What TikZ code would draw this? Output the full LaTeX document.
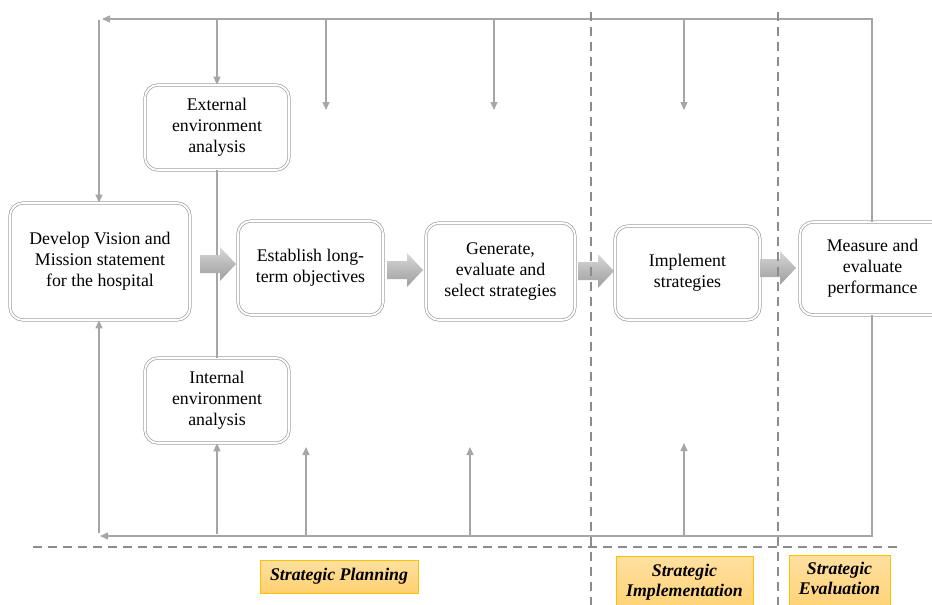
\documentclass[tikz,border=0pt]{standalone}
\usepackage{fontspec}
\setmainfont{Liberation Serif}
\usetikzlibrary{arrows.meta,calc}

\definecolor{lineg}{HTML}{A6A6A6}
\definecolor{dashg}{HTML}{8C8C8C}
\definecolor{boxg}{HTML}{A0A0A0}
\definecolor{phasetop}{HTML}{FFE0A0}
\definecolor{phasebot}{HTML}{FFD070}
\definecolor{phaseedge}{HTML}{FFC000}

\begin{document}
\begin{tikzpicture}[x=1pt,y=-1pt,
  stage/.style={draw=boxg, double=white, double distance=1.8pt, line width=0.7pt,
    rounded corners=13pt, fill=white, align=center, inner sep=0pt,
    font=\fontsize{17.8}{21}\selectfont},
  fb/.style={draw=lineg, line width=1.3pt},
  tip/.style={-{Triangle[length=8pt,width=7pt]}},
  phase/.style={draw=phaseedge, line width=1pt, top color=phasetop, bottom color=phasebot,
    align=center, inner sep=0pt, font=\fontsize{17.8}{20}\selectfont\bfseries\itshape},
  divider/.style={draw=dashg, line width=1.1pt, dash pattern=on 9pt off 6pt},
  flowarrow/.pic={
    \shade[top color=gray!30, bottom color=gray!75, middle color=gray!55]
      (-18,-9) -- (2,-9) -- (2,-17) -- (18,0) -- (2,17) -- (2,9) -- (-18,9) -- cycle;
  }
]
\useasboundingbox (0,0) rectangle (932,605);

% stage boxes
\node[stage, minimum width=180pt, minimum height=117pt] (dev) at (100,261.5)
  {Develop Vision and\\Mission statement\\for the hospital};
\node[stage, minimum width=144pt, minimum height=85pt] (ext) at (217,127.5)
  {External\\environment\\analysis};
\node[stage, minimum width=144pt, minimum height=85pt] (int) at (217,400.5)
  {Internal\\environment\\analysis};
\node[stage, minimum width=145pt, minimum height=94pt] (est) at (310.5,268)
  {Establish long-\\term objectives};
\node[stage, minimum width=149pt, minimum height=97pt] (gen) at (500.5,271.5)
  {Generate,\\evaluate and\\select strategies};
\node[stage, minimum width=145pt, minimum height=94pt] (imp) at (687.5,273)
  {Implement\\strategies};
\node[stage, minimum width=145pt, minimum height=93pt] (mea) at (872.5,268.5)
  {Measure and\\evaluate\\performance};

% feedback loop coordinates
\coordinate (tr) at (872,19);
\coordinate (tl) at (102,19);
\coordinate (br) at (872,536);
\coordinate (bl) at (100,536);
\coordinate (lt) at (99,20);
\coordinate (lb) at (99,533);

% top feedback line and its drops
\draw[fb, tip] (tr |- mea.north) -- (tr) -- (tl);
\draw[fb, tip] (lt) -- (lt |- dev.north);
\coordinate (d1) at (217,19);
\coordinate (d2s) at (326,19); \coordinate (d2e) at (326,110);
\coordinate (d3s) at (494,19); \coordinate (d3e) at (494,110);
\coordinate (d4s) at (684,19); \coordinate (d4e) at (684,110);
\draw[fb, tip] (d1) -- (ext.north);
\draw[fb, tip] (d2s) -- (d2e);
\draw[fb, tip] (d3s) -- (d3e);
\draw[fb, tip] (d4s) -- (d4e);

% bottom feedback line and its rises
\draw[fb, tip] (br |- mea.south) -- (br) -- (bl);
\draw[fb, tip] (lb) -- (lb |- dev.south);
\coordinate (u1) at (217,534);
\coordinate (u2s) at (306,536); \coordinate (u2e) at (306,447);
\coordinate (u3s) at (470,536); \coordinate (u3e) at (470,447);
\coordinate (u4s) at (684,536); \coordinate (u4e) at (684,443);
\draw[fb, tip] (u1) -- (int.south);
\draw[fb, tip] (u2s) -- (u2e);
\draw[fb, tip] (u3s) -- (u3e);
\draw[fb, tip] (u4s) -- (u4e);

% link between the two environment analyses
\draw[fb] (ext.south) -- (int.north);

% flow arrows between stages
\pic at (218,264) {flowarrow};
\pic at (405,270) {flowarrow};
\pic at (596,271) {flowarrow};
\pic at (778,268) {flowarrow};

% phase dividers
\draw[divider] (33,547) -- (902,547);
\draw[divider] (591,12) -- (591,605);
\draw[divider] (778,12) -- (778,605);

% phase labels
\node[phase, minimum width=158pt, minimum height=33pt] (plan) at (339,576.5)
  {Strategic Planning};
\node[phase, anchor=north, minimum width=137pt, minimum height=60pt, text depth=12pt] (impl) at (684.5,556)
  {Strategic\\Implementation};
\node[phase, anchor=north, minimum width=101pt, minimum height=60pt, text depth=14pt] (eval) at (839.5,555)
  {Strategic\\Evaluation};
\end{tikzpicture}
\end{document}
